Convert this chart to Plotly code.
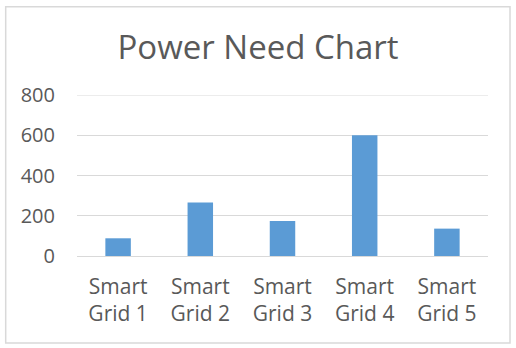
import plotly.graph_objects as go

categories = ["Smart<br>Grid 1", "Smart<br>Grid 2", "Smart<br>Grid 3", "Smart<br>Grid 4", "Smart<br>Grid 5"]
values = [88, 266, 174, 600, 136]
y_ticks = [0, 200, 400, 600, 800]

FONT = "Open Sans"
TEXT = "#595959"
GRID = "#d9d9d9"

fig = go.Figure(go.Bar(x=categories, y=values, marker=dict(color="#5b9bd5", line=dict(width=0)), width=0.31))

fig.update_layout(
    width=516, height=348,
    margin=dict(l=77, r=28, t=95, b=92),
    paper_bgcolor="white", plot_bgcolor="white",
    showlegend=False,
    font=dict(family=FONT, color=TEXT, size=20),
    title=dict(text="Power Need Chart", x=0.5, xanchor="center", y=1 - 47 / 348, yanchor="middle",
               xref="container", yref="container", font=dict(family=FONT, size=33, color=TEXT)),
    xaxis=dict(showgrid=False, showline=False, ticks="", ticklabelstandoff=16,
               tickfont=dict(size=21, color=TEXT)),
    yaxis=dict(range=[0, y_ticks[-1]], tickvals=y_ticks, showgrid=True, gridcolor=GRID, gridwidth=1,
               zeroline=True, zerolinecolor=GRID, zerolinewidth=1, showline=False, ticks="",
               ticklabelstandoff=21, tickfont=dict(size=20, color=TEXT)),
)

# top gridline (Plotly skips the grid line at the very edge of the range)
fig.add_shape(type="line", xref="paper", yref="y", x0=0, x1=1, y0=y_ticks[-1], y1=y_ticks[-1],
              line=dict(color=GRID, width=1), layer="below")

fig.add_shape(type="rect", xref="paper", yref="paper",
              x0=(5.7 - 77) / 411, x1=(510 - 77) / 411,
              y0=(256 - 343) / 161, y1=(256 - 6.7) / 161,
              line=dict(color="#d9d9d9", width=1.5), fillcolor="rgba(0,0,0,0)", layer="below")

fig.write_html("out.html")
